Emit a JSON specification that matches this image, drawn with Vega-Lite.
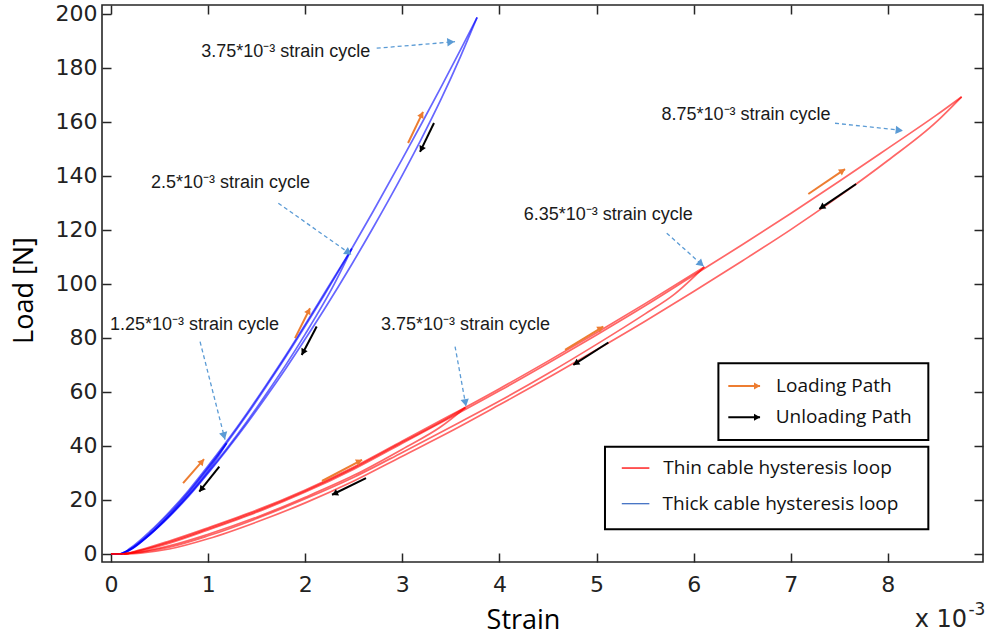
{
  "$schema": "https://vega.github.io/schema/vega-lite/v6.json",
  "autosize": {"type": "none"},
  "padding": {"left": 102, "top": 5, "right": 8, "bottom": 80},
  "width": 881,
  "height": 557,
  "background": "white",
  "config": {
    "view": {"stroke": "#262626", "strokeWidth": 1.6},
    "axis": {
      "grid": false,
      "domain": false,
      "tickColor": "#262626",
      "tickSize": -9,
      "tickWidth": 1.5,
      "labelFont": "DejaVu Sans",
      "labelFontSize": 22,
      "labelColor": "#222222",
      "labelFlush": false,
      "labelOverlap": false,
      "titleFont": "Open Sans",
      "titleFontSize": 27,
      "titleFontWeight": "normal",
      "titleColor": "#000000"
    }
  },
  "datasets": {
    "curves": [
      {"series": "Thick", "path": "B1L", "strain": 0, "load": 0},
      {"series": "Thick", "path": "B1L", "strain": 0.1, "load": 0},
      {"series": "Thick", "path": "B1L", "strain": 0.2, "load": 1.5},
      {"series": "Thick", "path": "B1L", "strain": 0.4, "load": 7.2},
      {"series": "Thick", "path": "B1L", "strain": 0.6, "load": 14.4},
      {"series": "Thick", "path": "B1L", "strain": 0.8, "load": 22.6},
      {"series": "Thick", "path": "B1L", "strain": 1.0, "load": 31.6},
      {"series": "Thick", "path": "B1L", "strain": 1.19, "load": 41.0},
      {"series": "Thick", "path": "B1U", "strain": 1.19, "load": 41.0},
      {"series": "Thick", "path": "B1U", "strain": 1.1, "load": 35.9},
      {"series": "Thick", "path": "B1U", "strain": 1.0, "load": 30.8},
      {"series": "Thick", "path": "B1U", "strain": 0.8, "load": 21.9},
      {"series": "Thick", "path": "B1U", "strain": 0.6, "load": 14.1},
      {"series": "Thick", "path": "B1U", "strain": 0.4, "load": 7.3},
      {"series": "Thick", "path": "B1U", "strain": 0.2, "load": 1.7},
      {"series": "Thick", "path": "B1U", "strain": 0.1, "load": 0},
      {"series": "Thick", "path": "B2L", "strain": 0, "load": 0},
      {"series": "Thick", "path": "B2L", "strain": 0.1, "load": 0},
      {"series": "Thick", "path": "B2L", "strain": 0.2, "load": 2.2},
      {"series": "Thick", "path": "B2L", "strain": 0.4, "load": 8.3},
      {"series": "Thick", "path": "B2L", "strain": 0.6, "load": 15.5},
      {"series": "Thick", "path": "B2L", "strain": 0.8, "load": 23.6},
      {"series": "Thick", "path": "B2L", "strain": 1.0, "load": 32.6},
      {"series": "Thick", "path": "B2L", "strain": 1.19, "load": 41.6},
      {"series": "Thick", "path": "B2L", "strain": 1.4, "load": 52.1},
      {"series": "Thick", "path": "B2L", "strain": 1.6, "load": 62.7},
      {"series": "Thick", "path": "B2L", "strain": 1.8, "load": 73.6},
      {"series": "Thick", "path": "B2L", "strain": 2.0, "load": 85.0},
      {"series": "Thick", "path": "B2L", "strain": 2.2, "load": 96.7},
      {"series": "Thick", "path": "B2L", "strain": 2.48, "load": 113.1},
      {"series": "Thick", "path": "B2U", "strain": 2.48, "load": 113.1},
      {"series": "Thick", "path": "B2U", "strain": 2.3, "load": 100.0},
      {"series": "Thick", "path": "B2U", "strain": 2.0, "load": 81.4},
      {"series": "Thick", "path": "B2U", "strain": 1.8, "load": 70.0},
      {"series": "Thick", "path": "B2U", "strain": 1.6, "load": 59.3},
      {"series": "Thick", "path": "B2U", "strain": 1.4, "load": 49.0},
      {"series": "Thick", "path": "B2U", "strain": 1.19, "load": 38.9},
      {"series": "Thick", "path": "B2U", "strain": 1.0, "load": 30.3},
      {"series": "Thick", "path": "B2U", "strain": 0.8, "load": 21.7},
      {"series": "Thick", "path": "B2U", "strain": 0.6, "load": 14.0},
      {"series": "Thick", "path": "B2U", "strain": 0.4, "load": 7.2},
      {"series": "Thick", "path": "B2U", "strain": 0.2, "load": 1.7},
      {"series": "Thick", "path": "B2U", "strain": 0.1, "load": 0},
      {"series": "Thick", "path": "B3L", "strain": 0, "load": 0},
      {"series": "Thick", "path": "B3L", "strain": 0.1, "load": 0},
      {"series": "Thick", "path": "B3L", "strain": 0.2, "load": 1.8},
      {"series": "Thick", "path": "B3L", "strain": 0.4, "load": 7.7},
      {"series": "Thick", "path": "B3L", "strain": 0.6, "load": 14.9},
      {"series": "Thick", "path": "B3L", "strain": 0.8, "load": 23.0},
      {"series": "Thick", "path": "B3L", "strain": 1.0, "load": 32.0},
      {"series": "Thick", "path": "B3L", "strain": 1.19, "load": 41.0},
      {"series": "Thick", "path": "B3L", "strain": 1.4, "load": 51.5},
      {"series": "Thick", "path": "B3L", "strain": 1.6, "load": 62.1},
      {"series": "Thick", "path": "B3L", "strain": 1.8, "load": 73.0},
      {"series": "Thick", "path": "B3L", "strain": 2.0, "load": 84.4},
      {"series": "Thick", "path": "B3L", "strain": 2.2, "load": 96.1},
      {"series": "Thick", "path": "B3L", "strain": 2.48, "load": 113.1},
      {"series": "Thick", "path": "B3L", "strain": 2.7, "load": 126.9},
      {"series": "Thick", "path": "B3L", "strain": 3.0, "load": 146.3},
      {"series": "Thick", "path": "B3L", "strain": 3.2, "load": 159.5},
      {"series": "Thick", "path": "B3L", "strain": 3.4, "load": 173.0},
      {"series": "Thick", "path": "B3L", "strain": 3.6, "load": 186.8},
      {"series": "Thick", "path": "B3L", "strain": 3.77, "load": 198.7},
      {"series": "Thick", "path": "B3U", "strain": 3.77, "load": 198.7},
      {"series": "Thick", "path": "B3U", "strain": 3.6, "load": 184.3},
      {"series": "Thick", "path": "B3U", "strain": 3.4, "load": 168.5},
      {"series": "Thick", "path": "B3U", "strain": 3.2, "load": 154.0},
      {"series": "Thick", "path": "B3U", "strain": 3.0, "load": 140.3},
      {"series": "Thick", "path": "B3U", "strain": 2.7, "load": 120.9},
      {"series": "Thick", "path": "B3U", "strain": 2.48, "load": 107.3},
      {"series": "Thick", "path": "B3U", "strain": 2.2, "load": 90.8},
      {"series": "Thick", "path": "B3U", "strain": 2.0, "load": 79.6},
      {"series": "Thick", "path": "B3U", "strain": 1.8, "load": 68.7},
      {"series": "Thick", "path": "B3U", "strain": 1.6, "load": 58.3},
      {"series": "Thick", "path": "B3U", "strain": 1.4, "load": 48.3},
      {"series": "Thick", "path": "B3U", "strain": 1.19, "load": 38.4},
      {"series": "Thick", "path": "B3U", "strain": 1.0, "load": 29.9},
      {"series": "Thick", "path": "B3U", "strain": 0.8, "load": 21.4},
      {"series": "Thick", "path": "B3U", "strain": 0.6, "load": 13.8},
      {"series": "Thick", "path": "B3U", "strain": 0.4, "load": 7.1},
      {"series": "Thick", "path": "B3U", "strain": 0.2, "load": 1.6},
      {"series": "Thick", "path": "B3U", "strain": 0.1, "load": 0},
      {"series": "Thin", "path": "C1L", "strain": 0, "load": 0},
      {"series": "Thin", "path": "C1L", "strain": 0.13, "load": 0},
      {"series": "Thin", "path": "C1L", "strain": 0.3, "load": 1.3},
      {"series": "Thin", "path": "C1L", "strain": 0.6, "load": 4.4},
      {"series": "Thin", "path": "C1L", "strain": 1.0, "load": 9.3},
      {"series": "Thin", "path": "C1L", "strain": 1.5, "load": 15.8},
      {"series": "Thin", "path": "C1L", "strain": 2.0, "load": 23.3},
      {"series": "Thin", "path": "C1L", "strain": 2.5, "load": 31.8},
      {"series": "Thin", "path": "C1L", "strain": 3.0, "load": 41.4},
      {"series": "Thin", "path": "C1L", "strain": 3.5, "load": 51.0},
      {"series": "Thin", "path": "C1L", "strain": 3.65, "load": 54.2},
      {"series": "Thin", "path": "C1U", "strain": 3.65, "load": 54.2},
      {"series": "Thin", "path": "C1U", "strain": 3.4, "load": 47.2},
      {"series": "Thin", "path": "C1U", "strain": 3.0, "load": 38.8},
      {"series": "Thin", "path": "C1U", "strain": 2.5, "load": 29.1},
      {"series": "Thin", "path": "C1U", "strain": 2.0, "load": 21.0},
      {"series": "Thin", "path": "C1U", "strain": 1.5, "load": 13.6},
      {"series": "Thin", "path": "C1U", "strain": 1.0, "load": 7.3},
      {"series": "Thin", "path": "C1U", "strain": 0.6, "load": 3.0},
      {"series": "Thin", "path": "C1U", "strain": 0.3, "load": 0.7},
      {"series": "Thin", "path": "C1U", "strain": 0.13, "load": 0},
      {"series": "Thin", "path": "C2L", "strain": 0, "load": 0},
      {"series": "Thin", "path": "C2L", "strain": 0.13, "load": 0},
      {"series": "Thin", "path": "C2L", "strain": 0.3, "load": 1.5},
      {"series": "Thin", "path": "C2L", "strain": 0.6, "load": 4.8},
      {"series": "Thin", "path": "C2L", "strain": 1.0, "load": 9.7},
      {"series": "Thin", "path": "C2L", "strain": 1.5, "load": 16.2},
      {"series": "Thin", "path": "C2L", "strain": 2.0, "load": 23.7},
      {"series": "Thin", "path": "C2L", "strain": 2.5, "load": 32.2},
      {"series": "Thin", "path": "C2L", "strain": 3.0, "load": 41.8},
      {"series": "Thin", "path": "C2L", "strain": 3.5, "load": 51.4},
      {"series": "Thin", "path": "C2L", "strain": 4.0, "load": 61.2},
      {"series": "Thin", "path": "C2L", "strain": 4.5, "load": 71.4},
      {"series": "Thin", "path": "C2L", "strain": 5.0, "load": 81.9},
      {"series": "Thin", "path": "C2L", "strain": 5.5, "load": 92.7},
      {"series": "Thin", "path": "C2L", "strain": 6.11, "load": 106.3},
      {"series": "Thin", "path": "C2U", "strain": 6.11, "load": 106.3},
      {"series": "Thin", "path": "C2U", "strain": 5.8, "load": 96.1},
      {"series": "Thin", "path": "C2U", "strain": 5.5, "load": 88.9},
      {"series": "Thin", "path": "C2U", "strain": 5.0, "load": 77.6},
      {"series": "Thin", "path": "C2U", "strain": 4.5, "load": 66.8},
      {"series": "Thin", "path": "C2U", "strain": 4.0, "load": 56.6},
      {"series": "Thin", "path": "C2U", "strain": 3.5, "load": 47.0},
      {"series": "Thin", "path": "C2U", "strain": 3.0, "load": 37.6},
      {"series": "Thin", "path": "C2U", "strain": 2.5, "load": 28.4},
      {"series": "Thin", "path": "C2U", "strain": 2.0, "load": 20.4},
      {"series": "Thin", "path": "C2U", "strain": 1.5, "load": 13.1},
      {"series": "Thin", "path": "C2U", "strain": 1.0, "load": 6.7},
      {"series": "Thin", "path": "C2U", "strain": 0.6, "load": 2.5},
      {"series": "Thin", "path": "C2U", "strain": 0.3, "load": 0.6},
      {"series": "Thin", "path": "C2U", "strain": 0.13, "load": 0},
      {"series": "Thin", "path": "C3L", "strain": 0, "load": 0},
      {"series": "Thin", "path": "C3L", "strain": 0.13, "load": 0},
      {"series": "Thin", "path": "C3L", "strain": 0.3, "load": 1.1},
      {"series": "Thin", "path": "C3L", "strain": 0.6, "load": 4.0},
      {"series": "Thin", "path": "C3L", "strain": 1.0, "load": 8.9},
      {"series": "Thin", "path": "C3L", "strain": 1.5, "load": 15.4},
      {"series": "Thin", "path": "C3L", "strain": 2.0, "load": 22.9},
      {"series": "Thin", "path": "C3L", "strain": 2.5, "load": 31.4},
      {"series": "Thin", "path": "C3L", "strain": 3.0, "load": 41.0},
      {"series": "Thin", "path": "C3L", "strain": 3.5, "load": 50.6},
      {"series": "Thin", "path": "C3L", "strain": 4.0, "load": 60.4},
      {"series": "Thin", "path": "C3L", "strain": 4.5, "load": 70.6},
      {"series": "Thin", "path": "C3L", "strain": 5.0, "load": 81.1},
      {"series": "Thin", "path": "C3L", "strain": 5.5, "load": 91.9},
      {"series": "Thin", "path": "C3L", "strain": 6.0, "load": 103.2},
      {"series": "Thin", "path": "C3L", "strain": 6.5, "load": 114.5},
      {"series": "Thin", "path": "C3L", "strain": 7.0, "load": 126.1},
      {"series": "Thin", "path": "C3L", "strain": 7.5, "load": 138.0},
      {"series": "Thin", "path": "C3L", "strain": 8.0, "load": 150.2},
      {"series": "Thin", "path": "C3L", "strain": 8.5, "load": 162.5},
      {"series": "Thin", "path": "C3L", "strain": 8.76, "load": 169.3},
      {"series": "Thin", "path": "C3U", "strain": 8.76, "load": 169.3},
      {"series": "Thin", "path": "C3U", "strain": 8.5, "load": 160.0},
      {"series": "Thin", "path": "C3U", "strain": 8.0, "load": 145.7},
      {"series": "Thin", "path": "C3U", "strain": 7.5, "load": 132.5},
      {"series": "Thin", "path": "C3U", "strain": 7.0, "load": 120.1},
      {"series": "Thin", "path": "C3U", "strain": 6.5, "load": 108.5},
      {"series": "Thin", "path": "C3U", "strain": 6.0, "load": 97.2},
      {"series": "Thin", "path": "C3U", "strain": 5.5, "load": 86.2},
      {"series": "Thin", "path": "C3U", "strain": 5.0, "load": 75.6},
      {"series": "Thin", "path": "C3U", "strain": 4.5, "load": 65.2},
      {"series": "Thin", "path": "C3U", "strain": 4.0, "load": 55.2},
      {"series": "Thin", "path": "C3U", "strain": 3.5, "load": 45.4},
      {"series": "Thin", "path": "C3U", "strain": 3.0, "load": 36.2},
      {"series": "Thin", "path": "C3U", "strain": 2.5, "load": 27.0},
      {"series": "Thin", "path": "C3U", "strain": 2.0, "load": 18.9},
      {"series": "Thin", "path": "C3U", "strain": 1.5, "load": 11.8},
      {"series": "Thin", "path": "C3U", "strain": 1.0, "load": 5.6},
      {"series": "Thin", "path": "C3U", "strain": 0.6, "load": 1.8},
      {"series": "Thin", "path": "C3U", "strain": 0.3, "load": 0.3},
      {"series": "Thin", "path": "C3U", "strain": 0.13, "load": 0}
    ],
    "notes": [
      {"label": "3.75*10⁻³ strain cycle", "strain": 1.80, "load": 185.9},
      {"label": "2.5*10⁻³ strain cycle", "strain": 1.23, "load": 137.4},
      {"label": "1.25*10⁻³ strain cycle", "strain": 0.86, "load": 84.8},
      {"label": "3.75*10⁻³ strain cycle", "strain": 3.65, "load": 84.8},
      {"label": "6.35*10⁻³ strain cycle", "strain": 5.12, "load": 125.6},
      {"label": "8.75*10⁻³ strain cycle", "strain": 6.54, "load": 162.6}
    ],
    "noteArrows": [
      {"series": "Note", "strain": 2.736, "load": 187.3, "strain2": 3.543, "load2": 189.7},
      {"series": "Note", "strain": 1.723, "load": 129.9, "strain2": 2.480, "load2": 110.7},
      {"series": "Note", "strain": 0.917, "load": 78.6, "strain2": 1.174, "load2": 42.3},
      {"series": "Note", "strain": 3.543, "load": 76.8, "strain2": 3.656, "load2": 54.6},
      {"series": "Note", "strain": 5.723, "load": 118.8, "strain2": 6.107, "load2": 106.4},
      {"series": "Note", "strain": 7.456, "load": 159.5, "strain2": 8.160, "load2": 156.8}
    ],
    "noteHeads": [
      {"series": "Note", "strain": 3.50, "load": 189.6, "angle": 85.2},
      {"series": "Note", "strain": 2.445, "load": 111.6, "angle": 125.2},
      {"series": "Note", "strain": 1.164, "load": 43.7, "angle": 165.7},
      {"series": "Note", "strain": 3.649, "load": 56.0, "angle": 169.6},
      {"series": "Note", "strain": 6.076, "load": 107.4, "angle": 131.8},
      {"series": "Note", "strain": 8.118, "load": 156.9, "angle": 96.2}
    ],
    "pathArrows": [
      {"series": "Loading", "strain": 0.742, "load": 26.2, "strain2": 0.958, "load2": 35.1},
      {"series": "Loading", "strain": 1.895, "load": 79.9, "strain2": 2.049, "load2": 91.0},
      {"series": "Loading", "strain": 3.059, "load": 152.2, "strain2": 3.213, "load2": 163.7},
      {"series": "Loading", "strain": 2.173, "load": 27.0, "strain2": 2.585, "load2": 34.8},
      {"series": "Loading", "strain": 4.676, "load": 75.6, "strain2": 5.070, "load2": 84.2},
      {"series": "Loading", "strain": 7.181, "load": 133.3, "strain2": 7.559, "load2": 142.5},
      {"series": "Unloading", "strain": 1.115, "load": 32.3, "strain2": 0.909, "load2": 23.1},
      {"series": "Unloading", "strain": 2.118, "load": 84.2, "strain2": 1.964, "load2": 73.7},
      {"series": "Unloading", "strain": 3.326, "load": 159.6, "strain2": 3.182, "load2": 148.9},
      {"series": "Unloading", "strain": 2.626, "load": 28.1, "strain2": 2.276, "load2": 21.9},
      {"series": "Unloading", "strain": 5.122, "load": 78.3, "strain2": 4.761, "load2": 70.0},
      {"series": "Unloading", "strain": 7.673, "load": 137.0, "strain2": 7.295, "load2": 127.8}
    ],
    "pathHeads": [
      {"series": "Loading", "strain": 0.937, "load": 34.2, "angle": 40.8},
      {"series": "Loading", "strain": 2.036, "load": 90.0, "angle": 26.6},
      {"series": "Loading", "strain": 3.200, "load": 162.7, "angle": 25.8},
      {"series": "Loading", "strain": 2.557, "load": 34.3, "angle": 62.3},
      {"series": "Loading", "strain": 5.043, "load": 83.6, "angle": 58.7},
      {"series": "Loading", "strain": 7.533, "load": 141.9, "angle": 56.1},
      {"series": "Unloading", "strain": 0.929, "load": 23.9, "angle": 218.7},
      {"series": "Unloading", "strain": 1.978, "load": 74.7, "angle": 207.9},
      {"series": "Unloading", "strain": 3.196, "load": 149.9, "angle": 205.8},
      {"series": "Unloading", "strain": 2.304, "load": 22.3, "angle": 243.4},
      {"series": "Unloading", "strain": 4.787, "load": 70.6, "angle": 237.5},
      {"series": "Unloading", "strain": 7.320, "load": 128.4, "angle": 235.7}
    ],
    "keyBoxes": [
      {"strain": 6.255, "strain2": 8.417, "load": 70.6, "load2": 42.2},
      {"strain": 5.087, "strain2": 8.417, "load": 39.7, "load2": 9.15}
    ],
    "keyArrows": [
      {"series": "Loading", "strain": 6.357, "strain2": 6.684, "load": 62.2},
      {"series": "Unloading", "strain": 6.357, "strain2": 6.684, "load": 50.6}
    ],
    "keyHeads": [
      {"series": "Loading", "strain": 6.653, "load": 62.2, "angle": 90},
      {"series": "Unloading", "strain": 6.653, "load": 50.6, "angle": 90}
    ],
    "keySwatches": [
      {"series": "Thin", "strain": 5.260, "strain2": 5.544, "load": 31.8},
      {"series": "ThickKey", "strain": 5.260, "strain2": 5.544, "load": 18.6}
    ],
    "keyText": [
      {"label": "Loading Path", "strain": 6.849, "load": 62.2},
      {"label": "Unloading Path", "strain": 6.845, "load": 50.6},
      {"label": "Thin cable hysteresis loop", "strain": 5.688, "load": 31.8},
      {"label": "Thick cable hysteresis loop", "strain": 5.680, "load": 18.6}
    ],
    "multiplier": [
      {"label": "x 10", "strain": 8.816, "load": -24.6}
    ],
    "exponent": [
      {"label": "-3", "strain": 8.83, "load": -20.6}
    ],
    "frameTicks": [
      {"strain": 0, "load": 0}
    ]
  },
  "layer": [
    {
      "encoding": {
        "x": {
          "field": "strain",
          "type": "quantitative",
          "scale": {"domain": [-0.093, 8.98], "nice": false, "zero": false},
          "axis": {
            "title": "Strain",
            "values": [0, 1, 2, 3, 4, 5, 6, 7, 8],
            "labelPadding": 21,
            "titleX": 421,
            "titleY": 66,
            "titleBaseline": "alphabetic",
            "titleAnchor": "middle",
            "titleAlign": "center"
          }
        },
        "y": {
          "field": "load",
          "type": "quantitative",
          "scale": {"domain": [-3, 203.3], "nice": false, "zero": false},
          "axis": {
            "title": "Load [N]",
            "values": [0, 20, 40, 60, 80, 100, 120, 140, 160, 180, 200],
            "labelPadding": 14,
            "titleX": -78,
            "titleY": 285,
            "titleAngle": -90,
            "titleAlign": "center",
            "titleBaseline": "middle"
          }
        }
      },
      "layer": [
        {
          "data": {"name": "curves"},
          "mark": {"type": "line", "interpolate": "monotone", "strokeWidth": 1.7, "opacity": 0.6},
          "encoding": {
            "detail": {"field": "path", "type": "nominal"},
            "color": {
              "field": "series",
              "type": "nominal",
              "scale": {
                "domain": ["Thin", "Thick", "Loading", "Unloading", "Note", "ThickKey"],
                "range": ["#ff0000", "#0000ff", "#ed7d31", "#000000", "#5b9bd5", "#4472c4"]
              },
              "legend": null
            }
          }
        },
        {
          "data": {"name": "pathArrows"},
          "mark": {"type": "rule", "strokeWidth": 2},
          "encoding": {
            "x2": {"field": "strain2"},
            "y2": {"field": "load2"},
            "color": {"field": "series", "type": "nominal", "legend": null}
          }
        },
        {
          "data": {"name": "pathHeads"},
          "mark": {"type": "point", "shape": "triangle-up", "filled": true, "size": 50, "opacity": 1},
          "encoding": {
            "angle": {"field": "angle", "type": "quantitative", "scale": null},
            "color": {"field": "series", "type": "nominal", "legend": null}
          }
        },
        {
          "data": {"name": "noteArrows"},
          "mark": {"type": "rule", "strokeWidth": 1.3, "strokeDash": [4, 3]},
          "encoding": {
            "x2": {"field": "strain2"},
            "y2": {"field": "load2"},
            "color": {"field": "series", "type": "nominal", "legend": null}
          }
        },
        {
          "data": {"name": "noteHeads"},
          "mark": {"type": "point", "shape": "triangle-up", "filled": true, "size": 70, "opacity": 1},
          "encoding": {
            "angle": {"field": "angle", "type": "quantitative", "scale": null},
            "color": {"field": "series", "type": "nominal", "legend": null}
          }
        },
        {
          "data": {"name": "notes"},
          "mark": {"type": "text", "font": "Liberation Sans", "fontSize": 18, "color": "#1a1a1a", "align": "center", "baseline": "middle"},
          "encoding": {"text": {"field": "label", "type": "nominal"}}
        },
        {
          "data": {"name": "keyBoxes"},
          "mark": {"type": "rect", "fill": "white", "stroke": "#000000", "strokeWidth": 2},
          "encoding": {
            "x2": {"field": "strain2"},
            "y2": {"field": "load2"}
          }
        },
        {
          "data": {"name": "keyArrows"},
          "mark": {"type": "rule", "strokeWidth": 2},
          "encoding": {
            "x2": {"field": "strain2"},
            "color": {"field": "series", "type": "nominal", "legend": null}
          }
        },
        {
          "data": {"name": "keyHeads"},
          "mark": {"type": "point", "shape": "triangle-up", "filled": true, "size": 50, "opacity": 1},
          "encoding": {
            "angle": {"field": "angle", "type": "quantitative", "scale": null},
            "color": {"field": "series", "type": "nominal", "legend": null}
          }
        },
        {
          "data": {"name": "keySwatches"},
          "mark": {"type": "rule", "strokeWidth": 1.3},
          "encoding": {
            "x2": {"field": "strain2"},
            "color": {"field": "series", "type": "nominal", "legend": null}
          }
        },
        {
          "data": {"name": "keyText"},
          "mark": {"type": "text", "font": "Open Sans", "fontSize": 19, "color": "#111111", "align": "left", "baseline": "middle"},
          "encoding": {"text": {"field": "label", "type": "nominal"}}
        },
        {
          "data": {"name": "multiplier"},
          "mark": {"type": "text", "font": "DejaVu Sans", "fontSize": 24, "color": "#222222", "align": "right", "baseline": "middle"},
          "encoding": {"text": {"field": "label", "type": "nominal"}}
        },
        {
          "data": {"name": "exponent"},
          "mark": {"type": "text", "font": "DejaVu Sans", "fontSize": 17, "color": "#222222", "align": "left", "baseline": "middle"},
          "encoding": {"text": {"field": "label", "type": "nominal"}}
        }
      ]
    },
    {
      "data": {"name": "frameTicks"},
      "mark": {"type": "point", "opacity": 0},
      "encoding": {
        "x": {
          "field": "strain",
          "type": "quantitative",
          "scale": {"domain": [-0.093, 8.98], "nice": false, "zero": false},
          "axis": {"orient": "top", "labels": false, "title": null, "values": [0, 1, 2, 3, 4, 5, 6, 7, 8]}
        },
        "y": {
          "field": "load",
          "type": "quantitative",
          "scale": {"domain": [-3, 203.3], "nice": false, "zero": false},
          "axis": {"orient": "right", "labels": false, "title": null, "values": [0, 20, 40, 60, 80, 100, 120, 140, 160, 180, 200]}
        }
      }
    }
  ],
  "resolve": {"scale": {"x": "independent", "y": "independent"}}
}
